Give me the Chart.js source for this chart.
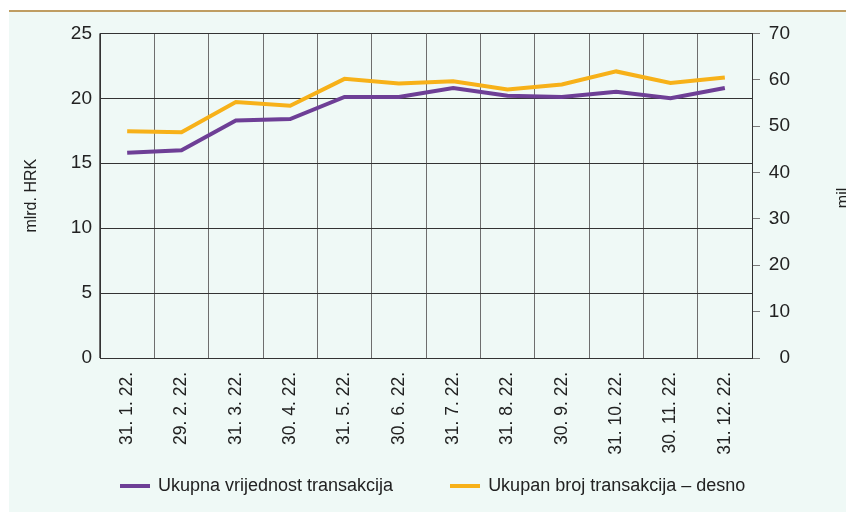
<!DOCTYPE html>
<html>
<head>
<meta charset="utf-8">
<script src="https://cdn.jsdelivr.net/npm/chart.js@4.4.0/dist/chart.umd.min.js"></script>
<style>
  html, body { margin: 0; padding: 0; background: #ffffff; overflow: hidden; }
  #frame {
    position: absolute; left: 9px; top: 10px; width: 837px; height: 502px;
    border-top: 2px solid #bf9d62; background: #eff9f6;
  }
  #chart { display: block; }
  #legend {
    position: absolute; left: 111px; top: 463px;
    display: flex; align-items: center; gap: 57px;
    font: 18px 'Liberation Sans', Arial, sans-serif; color: #222;
  }
  .item { display: flex; align-items: center; }
  .swatch { width: 30px; height: 4px; margin-right: 8px; }
</style>
</head>
<body>
<div id="frame">
  <canvas id="chart" width="837" height="500"></canvas>
  <div id="legend"></div>
</div>
<script>
// Data
const labels = ['31. 1. 22.', '29. 2. 22.', '31. 3. 22.', '30. 4. 22.', '31. 5. 22.', '30. 6. 22.',
  '31. 7. 22.', '31. 8. 22.', '30. 9. 22.', '31. 10. 22.', '30. 11. 22.', '31. 12. 22.'];
const totalValue = [15.8, 16.0, 18.3, 18.4, 20.1, 20.1, 20.8, 20.2, 20.1, 20.5, 20.0, 20.8];
const totalCount = [48.9, 48.7, 55.2, 54.4, 60.2, 59.2, 59.7, 57.9, 59.0, 61.8, 59.3, 60.5];
const seriesNames = ['Ukupna vrijednost transakcija', 'Ukupan broj transakcija – desno'];
const leftTitle = 'mlrd. HRK';
const rightTitle = 'mil.';

const FONT = "'Liberation Sans', Arial, sans-serif";
const PURPLE = '#6e3f96';
const ORANGE = '#f7b119';

// Right axis title reads bottom to top and is cut by the page edge
const rightTitlePlugin = {
  id: 'rightTitle',
  afterDraw(chart) {
    const ctx = chart.ctx;
    const area = chart.chartArea;
    ctx.save();
    ctx.translate(839, (area.top + area.bottom) / 2);
    ctx.rotate(-Math.PI / 2);
    ctx.font = '16px ' + FONT;
    ctx.fillStyle = '#222';
    ctx.textAlign = 'center';
    ctx.textBaseline = 'alphabetic';
    ctx.fillText(rightTitle, 0, 0);
    ctx.restore();
  }
};

const chart = new Chart(document.getElementById('chart'), {
  type: 'line',
  data: {
    labels: labels,
    datasets: [
      {
        label: seriesNames[0],
        data: totalValue,
        yAxisID: 'y',
        borderColor: PURPLE,
        backgroundColor: PURPLE,
        borderWidth: 4,
        pointRadius: 0,
        tension: 0
      },
      {
        label: seriesNames[1],
        data: totalCount,
        yAxisID: 'y1',
        borderColor: ORANGE,
        backgroundColor: ORANGE,
        borderWidth: 4,
        pointRadius: 0,
        tension: 0
      }
    ]
  },
  options: {
    responsive: false,
    animation: false,
    layout: { padding: { left: 13, right: 56, top: 11, bottom: 54 } },
    plugins: {
      tooltip: { enabled: false },
      legend: { display: false }
    },
    scales: {
      x: {
        offset: true,
        afterFit: (scale) => { scale.height = 100; },
        grid: { offset: true, color: '#6e6e6e', drawTicks: false },
        border: { color: '#333' },
        ticks: {
          color: '#222',
          font: { family: FONT, size: 17.5 },
          minRotation: 90,
          maxRotation: 90,
          padding: 14,
          autoSkip: false
        }
      },
      y: {
        position: 'left',
        min: 0,
        max: 25,
        afterFit: (scale) => { scale.width = 78; },
        ticks: { stepSize: 5, color: '#222', font: { family: FONT, size: 19 }, padding: 8 },
        grid: { color: '#333', drawTicks: false },
        border: { color: '#333' },
        title: { display: true, text: leftTitle, color: '#222', font: { family: FONT, size: 16 }, padding: 0 }
      },
      y1: {
        position: 'right',
        min: 0,
        max: 70,
        afterFit: (scale) => { scale.width = 38; },
        ticks: { stepSize: 10, color: '#222', font: { family: FONT, size: 19 }, padding: 10, crossAlign: 'far' },
        grid: { drawOnChartArea: false, drawTicks: true, tickLength: 8, color: '#7a7a7a' },
        border: { color: '#333' }
      }
    }
  },
  plugins: [rightTitlePlugin]
});

// Legend below the chart, built from the datasets
const legendEl = document.getElementById('legend');
chart.data.datasets.forEach(ds => {
  const item = document.createElement('div');
  item.className = 'item';
  item.innerHTML = `<span class="swatch" style="background:${ds.borderColor}"></span><span>${ds.label}</span>`;
  legendEl.appendChild(item);
});
</script>
</body>
</html>
